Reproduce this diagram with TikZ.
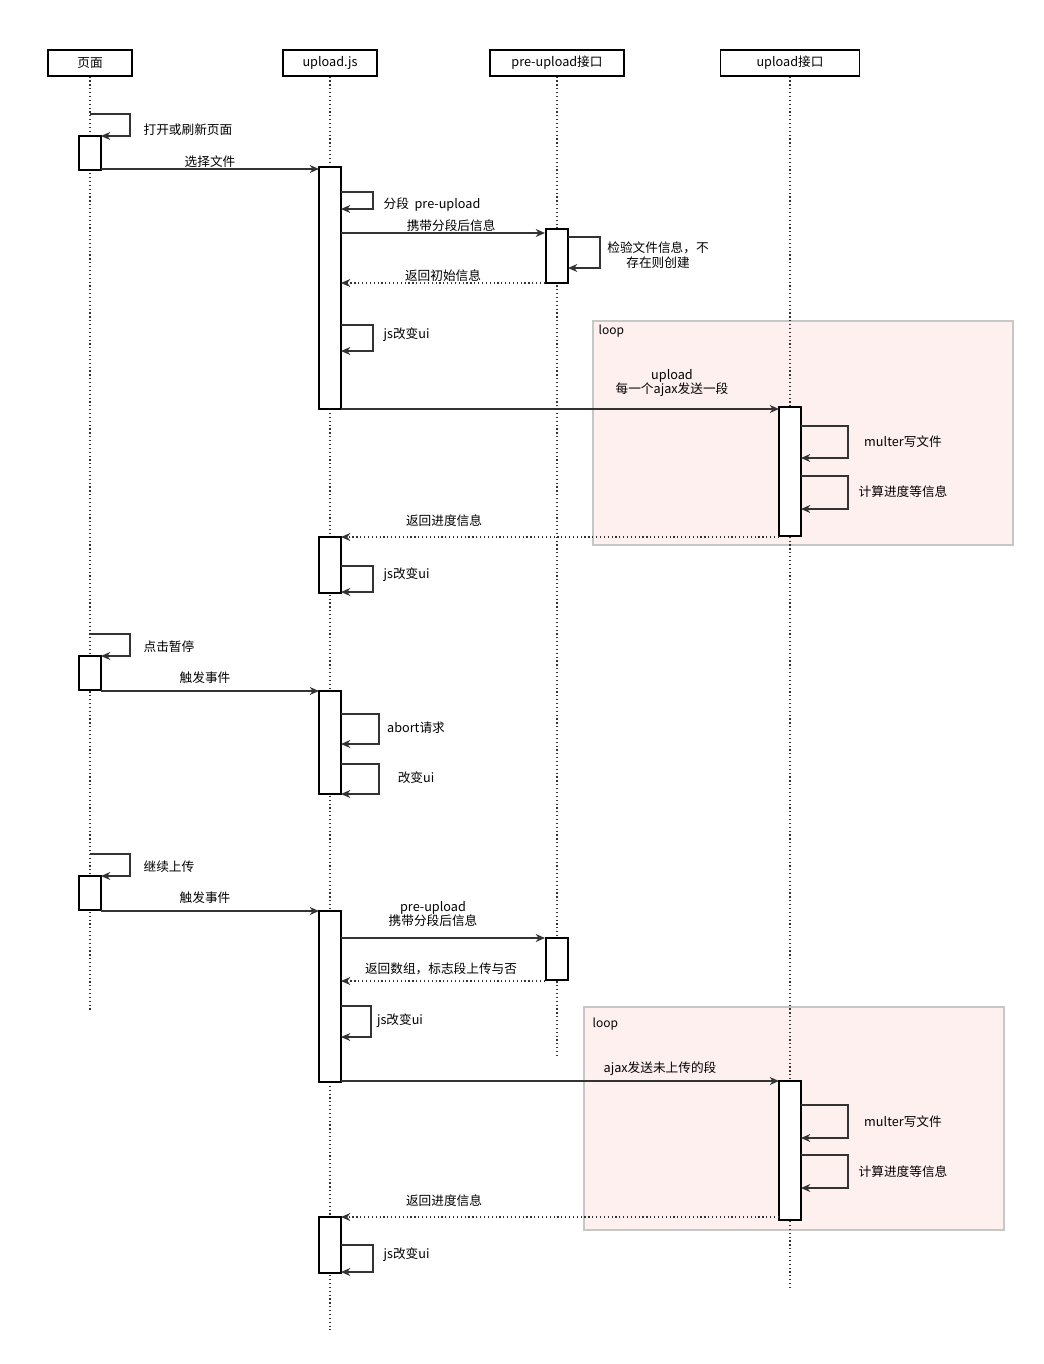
\documentclass[tikz,border=0pt]{standalone}
\usepackage{fontspec}
\setmainfont{Noto Sans CJK SC}
\usetikzlibrary{arrows.meta}
\begin{document}
\begin{tikzpicture}[x=0.75pt,y=-0.75pt,
  hdr/.style={draw=black,line width=0.9pt,fill=white,minimum width=#1*0.75pt,minimum height=19.5pt,inner sep=0pt,font=\fontsize{9.5}{11}\selectfont},
  act/.style={draw=black,line width=0.9pt,fill=white},
  life/.style={draw=black!80,dotted,line width=0.9pt},
  msg/.style={draw=black!80,line width=0.9pt,-{Stealth[length=7pt,width=6pt]}},
  ret/.style={msg,dotted},
  lbl/.style={font=\fontsize{9.5}{11}\selectfont,inner sep=1pt,align=center},
  loopf/.style={draw=black!22,line width=1pt,fill=red!6}]
\useasboundingbox (0,0) rectangle (1044,1364);
% loops
\draw[loopf] (593,321) rectangle (1013,545);
\node[lbl,anchor=west] (l1) at (597,331) {\fontsize{9}{10}\selectfont loop};
\draw[loopf] (584,1007) rectangle (1004,1230);
\node[lbl,anchor=west] (l2) at (591,1024) {\fontsize{9}{10}\selectfont loop};
% lifelines
\coordinate (aE) at (90,1010); \coordinate (bE) at (330,1330);
\coordinate (cE) at (557,1058); \coordinate (dE) at (790,1290);
\node[hdr=84] (A) at (90,63) {页面};
\node[hdr=94] (B) at (330,63) {upload.js};
\node[hdr=134] (C) at (557,63) {pre-upload接口};
\node[hdr=139] (D) at (790,63) {upload接口};
\draw[life] (A.south) -- (aE);
\draw[life] (B.south) -- (bE);
\draw[life] (C.south) -- (cE);
\draw[life] (D.south) -- (dE);
% activations
\foreach \n/\x/\a/\b in {a1/90/136/170,a2/90/656/690,a3/90/876/910,
  b1/330/167/409,b2/330/537/593,b3/330/691/794,b4/330/911/1082,b5/330/1217/1273,
  c1/557/229/283,c2/557/938/980,d1/790/407/536,d2/790/1081/1220}
  {\draw[act] (\x-11,\a) rectangle (\x+11,\b); \coordinate (\n) at (\x,\a);}
% self messages
\newcommand\selfm[5]{\draw[msg] (#1,#2) -- (#3,#2) -- (#3,#4) -- (#5,#4);}
\selfm{90}{114}{130}{136}{101}
\node[lbl,anchor=west] (t1) at (142,130) {打开或刷新页面};
\draw[msg] (101,169) -- node[lbl,above]{选择文件} (319,169);
\selfm{341}{192}{373}{209}{341}
\node[lbl,anchor=west] (t2) at (382,205) {分段\ \ pre-upload};
\draw[msg] (341,233) -- node[lbl,above,pos=0.54]{携带分段后信息} (545,233);
\selfm{568}{237}{600}{268}{568}
\node[lbl] (t3) at (658,255) {检验文件信息，不\\存在则创建};
\draw[ret] (545,283) -- node[lbl,above,pos=0.5]{返回初始信息} (341,283);
\selfm{341}{325}{373}{351}{341}
\node[lbl,anchor=west] (t4) at (382,335) {js改变ui};
\draw[msg] (341,409) -- (779,409);
\node[lbl] (t5) at (672,383) {upload\\每一个ajax发送一段};
\selfm{801}{426}{848}{458}{801}
\node[lbl] (t6) at (903,442) {multer写文件};
\selfm{801}{476}{848}{509}{801}
\node[lbl] (t7) at (903,492) {计算进度等信息};
\draw[ret] (779,537) -- (341,537);
\node[lbl] (t8) at (444,521) {返回进度信息};
\selfm{341}{566}{373}{592}{341}
\node[lbl,anchor=west] (t9) at (382,575) {js改变ui};
\selfm{90}{634}{130}{656}{101}
\node[lbl,anchor=west] (t10) at (142,647) {点击暂停};
\draw[msg] (101,691) -- (319,691);
\node[lbl] (t11) at (205,678) {触发事件};
\selfm{341}{714}{379}{744}{341}
\node[lbl] (t12) at (416,728) {abort请求};
\selfm{341}{764}{379}{794}{341}
\node[lbl] (t13) at (416,778) {改变ui};
\selfm{90}{854}{130}{876}{101}
\node[lbl,anchor=west] (t14) at (142,867) {继续上传};
\draw[msg] (101,911) -- (319,911);
\node[lbl] (t15) at (205,898) {触发事件};
\draw[msg] (341,938) -- (545,938);
\node[lbl] (t16) at (433,914) {pre-upload\\携带分段后信息};
\draw[ret] (545,981) -- (341,981);
\node[lbl] (t17) at (441,969) {返回数组，标志段上传与否};
\selfm{341}{1006}{371}{1037}{341}
\node[lbl] (t18) at (400,1021) {js改变ui};
\draw[msg] (341,1081) -- (779,1081);
\node[lbl] (t19) at (660,1069) {ajax发送未上传的段};
\selfm{801}{1105}{848}{1138}{801}
\node[lbl] (t20) at (903,1122) {multer写文件};
\selfm{801}{1155}{848}{1188}{801}
\node[lbl] (t21) at (903,1172) {计算进度等信息};
\draw[ret] (779,1217) -- (341,1217);
\node[lbl] (t22) at (444,1201) {返回进度信息};
\selfm{341}{1245}{373}{1272}{341}
\node[lbl,anchor=west] (t23) at (382,1255) {js改变ui};
\end{tikzpicture}
\end{document}
